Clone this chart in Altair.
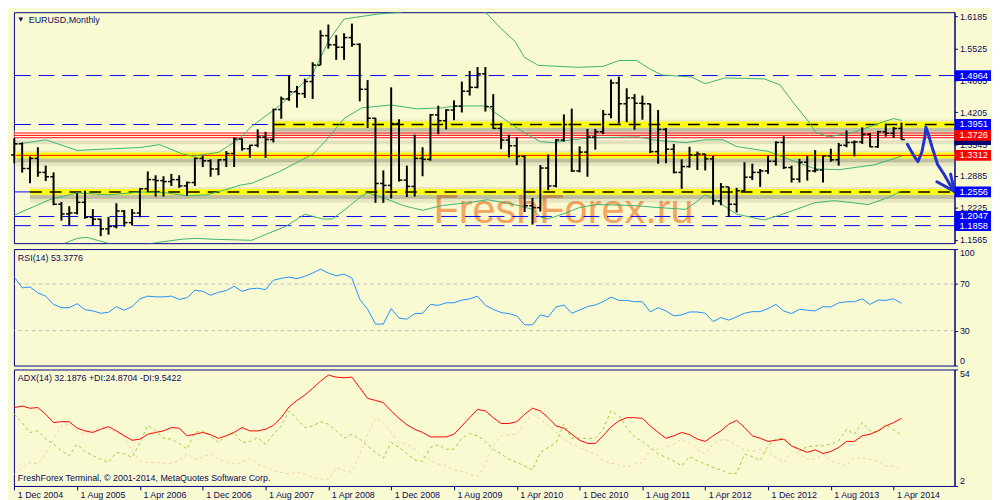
import altair as alt
import pandas as pd

# ---------------- data ----------------
opens = [1.3320, 1.3554, 1.3040, 1.3250, 1.2960, 1.2870, 1.2300, 1.2100, 1.2120, 1.2340,
         1.2030, 1.1990, 1.1790, 1.1840, 1.2160, 1.1920, 1.2120, 1.2620, 1.2810, 1.2790,
         1.2770, 1.2810, 1.2680, 1.2750, 1.3250, 1.3200, 1.3030, 1.3220, 1.3350, 1.3650,
         1.3450, 1.3520, 1.3690, 1.3640, 1.4260, 1.4480, 1.4630, 1.4590, 1.4840, 1.5180,
         1.5790, 1.5600, 1.5550, 1.5750, 1.5610, 1.4680, 1.4080, 1.2730, 1.2690, 1.3970,
         1.2800, 1.2670, 1.3250, 1.3230, 1.4150, 1.4030, 1.4250, 1.4330, 1.4640, 1.4720,
         1.5000, 1.4320, 1.3870, 1.3630, 1.3510, 1.3290, 1.2270, 1.2230, 1.3050, 1.2680,
         1.3630, 1.3950, 1.2990, 1.3380, 1.3690, 1.3800, 1.4160, 1.4810, 1.4380, 1.4500,
         1.4390, 1.4380, 1.3390, 1.3850, 1.3440, 1.2960, 1.3080, 1.3320, 1.3340, 1.3240,
         1.2370, 1.2660, 1.2300, 1.2580, 1.2860, 1.2960, 1.2990, 1.3190, 1.3580, 1.3060,
         1.2820, 1.3170, 1.2990, 1.3010, 1.3300, 1.3220, 1.3520, 1.3580, 1.3590, 1.3750,
         1.3490, 1.3800, 1.3770, 1.3870]
highs = [1.3667, 1.3580, 1.3290, 1.3480, 1.3100, 1.2960, 1.2350, 1.2260, 1.2530, 1.2580,
         1.2200, 1.2000, 1.2040, 1.2320, 1.2180, 1.2200, 1.2630, 1.2980, 1.2900, 1.2880,
         1.2930, 1.2900, 1.2770, 1.3270, 1.3300, 1.3230, 1.3230, 1.3400, 1.3680, 1.3660,
         1.3530, 1.3850, 1.3800, 1.4280, 1.4530, 1.4967, 1.4750, 1.4900, 1.5240, 1.5900,
         1.6020, 1.5800, 1.5840, 1.6040, 1.5630, 1.4870, 1.4090, 1.3000, 1.4720, 1.4060,
         1.3100, 1.3740, 1.3480, 1.4170, 1.4340, 1.4270, 1.4450, 1.4840, 1.5060, 1.5140,
         1.5140, 1.4580, 1.3980, 1.3740, 1.3690, 1.3320, 1.2430, 1.3110, 1.3330, 1.3650,
         1.4160, 1.4280, 1.3500, 1.3860, 1.3860, 1.4250, 1.4880, 1.4940, 1.4700, 1.4580,
         1.4550, 1.4380, 1.4250, 1.3880, 1.3550, 1.3230, 1.3490, 1.3390, 1.3340, 1.3300,
         1.2740, 1.2660, 1.2640, 1.3170, 1.3140, 1.3030, 1.3310, 1.3600, 1.3710, 1.3100,
         1.3240, 1.3300, 1.3420, 1.3310, 1.3450, 1.3570, 1.3830, 1.3620, 1.3890, 1.3770,
         1.3820, 1.3970, 1.3900, 1.3990]
lows = [1.3150, 1.2955, 1.2735, 1.2870, 1.2780, 1.2280, 1.1960, 1.1866, 1.2090, 1.2000,
        1.1860, 1.1640, 1.1670, 1.1800, 1.1840, 1.1860, 1.2030, 1.2550, 1.2460, 1.2460,
        1.2680, 1.2640, 1.2480, 1.2680, 1.3070, 1.2870, 1.2900, 1.3070, 1.3070, 1.3410,
        1.3265, 1.3480, 1.3260, 1.3580, 1.4070, 1.4440, 1.4300, 1.4500, 1.4480, 1.5180,
        1.5520, 1.5290, 1.5290, 1.5560, 1.4430, 1.3880, 1.2330, 1.2330, 1.2420, 1.2770,
        1.2450, 1.2460, 1.2880, 1.3200, 1.3750, 1.3850, 1.4040, 1.4200, 1.4550, 1.4700,
        1.4220, 1.3860, 1.3440, 1.3270, 1.3110, 1.2140, 1.1880, 1.2150, 1.2590, 1.2650,
        1.3600, 1.2970, 1.2960, 1.2870, 1.3430, 1.3750, 1.4080, 1.3970, 1.4000, 1.3840,
        1.4050, 1.3360, 1.3140, 1.3150, 1.2940, 1.2620, 1.3060, 1.3010, 1.3000, 1.2290,
        1.2280, 1.2040, 1.2130, 1.2560, 1.2800, 1.2660, 1.2930, 1.3100, 1.3030, 1.2750,
        1.2750, 1.2790, 1.2960, 1.2750, 1.3180, 1.3100, 1.3480, 1.3290, 1.3550, 1.3480,
        1.3470, 1.3700, 1.3670, 1.3640]
closes = [1.3554, 1.3040, 1.3250, 1.2960, 1.2870, 1.2300, 1.2100, 1.2120, 1.2340, 1.2030,
          1.1990, 1.1790, 1.1840, 1.2160, 1.1920, 1.2120, 1.2620, 1.2810, 1.2790, 1.2770,
          1.2810, 1.2680, 1.2750, 1.3250, 1.3200, 1.3030, 1.3220, 1.3350, 1.3650, 1.3450,
          1.3520, 1.3690, 1.3640, 1.4260, 1.4480, 1.4630, 1.4590, 1.4840, 1.5180, 1.5790,
          1.5600, 1.5550, 1.5750, 1.5610, 1.4680, 1.4080, 1.2730, 1.2690, 1.3970, 1.2800,
          1.2670, 1.3250, 1.3230, 1.4150, 1.4030, 1.4250, 1.4330, 1.4640, 1.4720, 1.5000,
          1.4320, 1.3870, 1.3630, 1.3510, 1.3290, 1.2270, 1.2230, 1.3050, 1.2680, 1.3630,
          1.3950, 1.2990, 1.3380, 1.3690, 1.3800, 1.4160, 1.4810, 1.4380, 1.4500, 1.4390,
          1.4380, 1.3390, 1.3850, 1.3440, 1.2960, 1.3080, 1.3320, 1.3340, 1.3240, 1.2370,
          1.2660, 1.2300, 1.2580, 1.2860, 1.2960, 1.2990, 1.3190, 1.3580, 1.3060, 1.2820,
          1.3170, 1.2990, 1.3010, 1.3300, 1.3220, 1.3520, 1.3580, 1.3590, 1.3750, 1.3490,
          1.3800, 1.3770, 1.3870, 1.3640]

# Bollinger bands, read as (month position, price) points
bb_upper_i = [0, 4, 8, 16, 18.5, 21.5, 22.75, 26, 28.5, 30.25, 33.75, 38, 40, 42, 46.25, 49.25, 53, 57,
              60, 62, 63.75, 65, 66.75, 71.75, 75, 77, 79.25, 81, 82.5, 86.25, 88, 90.5, 95.5, 97.5,
              99.25, 101.25, 102, 103.75, 107, 110.5, 112, 113]
bb_upper_p = [1.3535, 1.3635, 1.3415, 1.3475, 1.3535, 1.3335, 1.3295, 1.3375, 1.3635, 1.3915, 1.4335,
              1.4995, 1.5675, 1.6135, 1.6235, 1.6275, 1.6450, 1.6420, 1.6275, 1.5935, 1.5675, 1.5335,
              1.5175, 1.5135, 1.5155, 1.5275, 1.5275, 1.5095, 1.4975, 1.4935, 1.4795, 1.4915, 1.4895,
              1.4775, 1.4395, 1.3995, 1.3795, 1.3695, 1.3795, 1.3995, 1.4075, 1.4035]
bb_mid_i = [0, 4.5, 8, 12, 16.25, 19.5, 22, 24.5, 26.75, 28.75, 30.25, 33.75, 38, 40, 42, 44.25, 48,
            51.25, 54.5, 56.25, 60.25, 61.25, 63, 65, 67, 68.75, 71, 73.5, 79.5, 81.25, 85.5, 88, 90.25,
            92, 96, 99.25, 102, 105, 109.5, 113]
bb_mid_p = [1.2075, 1.2395, 1.2535, 1.2495, 1.2555, 1.2535, 1.2475, 1.2495, 1.2595, 1.2695, 1.2735,
            1.2975, 1.3335, 1.3675, 1.4075, 1.4295, 1.4355, 1.4275, 1.4295, 1.4335, 1.4335, 1.4195,
            1.3995, 1.3775, 1.3595, 1.3575, 1.3635, 1.3675, 1.3695, 1.3635, 1.3575, 1.3635, 1.3635,
            1.3495, 1.3395, 1.3195, 1.3035, 1.3015, 1.3115, 1.3295]
bb_lower_i = [0, 5, 8, 9.25, 11, 14, 18.5, 21.25, 23, 25.5, 30.25, 32, 34.5, 37, 39.25, 40.5, 42, 44.25,
              45, 46.25, 48, 49.5, 52, 54.5, 58, 60.25, 63.75, 66, 67, 68, 70.5, 72, 74.25, 78.75,
              81.75, 85.5, 86.75, 88, 89.25, 92, 95.5, 97.5, 102, 104.5, 108.75, 111.25, 113]
bb_lower_p = [1.1300, 1.1400, 1.1595, 1.1615, 1.1535, 1.1400, 1.1515, 1.1575, 1.1595, 1.1575, 1.1555,
              1.1675, 1.1835, 1.2095, 1.1995, 1.1995, 1.2175, 1.2475, 1.2535, 1.2475, 1.2375, 1.2275,
              1.2175, 1.2275, 1.2335, 1.2395, 1.2295, 1.2195, 1.2035, 1.1995, 1.2135, 1.2235, 1.2295,
              1.2275, 1.2235, 1.2195, 1.2335, 1.2495, 1.2395, 1.2095, 1.1975, 1.2075, 1.2335, 1.2375,
              1.2295, 1.2435, 1.2575]

rsi = [76.0, 66.7, 67.5, 62.4, 59.6, 52.5, 49.7, 49.7, 53.1, 48.0,
       46.9, 44.9, 45.7, 50.6, 47.5, 50.6, 57.3, 59.6, 59.0, 59.0,
       59.6, 56.8, 58.2, 64.7, 63.8, 60.4, 62.9, 64.4, 68.1, 63.8,
       65.8, 66.4, 65.2, 73.2, 74.9, 76.0, 74.6, 76.6, 79.4, 82.8,
       79.4, 77.1, 78.5, 75.1, 56.8, 48.3, 35.6, 35.6, 48.9, 40.7,
       39.8, 44.6, 44.9, 52.5, 51.7, 53.9, 53.9, 56.2, 57.3, 59.6,
       51.7, 48.3, 45.5, 44.6, 42.7, 35.0, 35.0, 43.5, 41.8, 50.3,
       52.0, 44.9, 47.7, 50.6, 52.0, 54.8, 58.8, 56.0, 56.0, 54.8,
       54.8, 46.0, 49.7, 46.9, 42.7, 43.5, 46.0, 46.0, 44.9, 37.8,
       41.2, 39.0, 41.8, 44.9, 46.3, 46.3, 48.9, 52.5, 46.9, 44.6,
       48.3, 47.5, 46.9, 50.6, 50.3, 53.9, 54.8, 54.8, 57.3, 52.5,
       56.2, 56.0, 57.3, 53.4]
adx = [37.0, 37.7, 36.7, 37.0, 34.0, 30.3, 30.7, 30.7, 27.8, 26.6,
       25.9, 27.3, 28.5, 26.6, 24.4, 22.4, 22.9, 25.1, 25.9, 26.6,
       28.1, 27.8, 24.4, 25.1, 25.9, 24.9, 23.3, 24.4, 25.9, 28.1,
       26.6, 26.6, 27.3, 29.1, 32.5, 37.3, 40.2, 42.6, 45.6, 48.8,
       51.5, 50.6, 50.3, 50.6, 45.9, 41.1, 40.2, 39.2, 35.5, 32.2,
       29.3, 27.3, 25.9, 23.9, 23.9, 23.9, 25.1, 28.8, 32.5, 36.2,
       35.5, 32.5, 29.9, 29.9, 30.7, 34.0, 36.7, 35.5, 32.5, 28.8,
       27.8, 25.1, 22.4, 21.0, 21.0, 24.4, 28.4, 31.0, 32.5, 32.5,
       32.2, 28.8, 25.9, 23.3, 24.4, 25.9, 24.9, 22.9, 21.9, 24.4,
       26.6, 29.6, 31.3, 28.1, 24.4, 23.3, 21.9, 22.4, 22.9, 19.9,
       18.4, 17.0, 18.1, 16.5, 17.4, 19.2, 21.9, 21.9, 24.4, 25.1,
       26.6, 28.8, 30.3, 32.2]
plus_di = [34.0, 30.3, 25.9, 26.6, 22.9, 20.7, 17.7, 15.5, 20.7, 17.4,
           15.5, 14.0, 12.5, 17.0, 16.3, 14.8, 21.4, 29.1, 26.6, 23.3,
           22.9, 21.0, 18.4, 25.9, 26.6, 24.4, 21.4, 24.4, 25.9, 21.4,
           21.9, 23.6, 20.7, 25.1, 28.8, 35.5, 31.8, 28.1, 28.8, 30.7,
           29.6, 26.6, 23.3, 25.1, 22.9, 19.9, 17.0, 14.4, 21.4, 19.2,
           16.5, 13.6, 13.0, 19.2, 20.4, 18.4, 18.4, 23.3, 25.4, 24.4,
           21.9, 18.4, 16.3, 14.0, 12.5, 11.0, 9.1, 17.0, 19.2, 21.4,
           29.6, 23.3, 23.3, 23.3, 23.3, 27.3, 35.5, 33.3, 28.1, 23.9,
           21.9, 19.2, 16.3, 14.8, 13.0, 11.0, 15.1, 13.3, 11.8, 10.3,
           9.1, 7.6, 7.6, 16.3, 15.1, 13.3, 19.9, 22.9, 23.3, 19.9,
           17.7, 19.5, 19.9, 19.9, 20.7, 22.2, 27.3, 25.1, 30.3, 26.6,
           25.9, 29.6, 26.9, 24.9]
minus_di = [7.3, 10.3, 12.5, 11.8, 16.3, 22.9, 28.8, 29.6, 26.6, 25.1,
            26.6, 28.8, 27.3, 25.9, 24.4, 17.7, 13.3, 12.5, 12.5, 12.1,
            12.1, 13.3, 16.3, 14.0, 14.8, 16.5, 14.0, 12.5, 11.8, 12.5,
            14.4, 11.8, 10.3, 8.8, 8.1, 7.3, 8.1, 7.3, 5.8, 5.1,
            5.1, 10.3, 8.8, 8.1, 16.3, 25.1, 32.5, 30.3, 25.9, 21.4,
            20.7, 18.4, 15.5, 13.3, 11.8, 11.0, 9.1, 8.5, 7.3, 6.1,
            11.8, 19.9, 24.4, 24.9, 25.1, 30.3, 34.0, 31.8, 28.8, 25.9,
            22.9, 20.7, 19.2, 17.7, 16.3, 13.3, 12.1, 11.8, 10.3, 11.8,
            12.5, 18.4, 18.4, 19.2, 20.7, 22.9, 21.4, 18.4, 16.3, 20.7,
            22.6, 22.4, 20.0, 18.1, 17.4, 18.4, 17.0, 14.8, 12.5, 17.4,
            16.5, 14.0, 14.0, 16.3, 13.3, 12.1, 11.0, 14.8, 14.3, 14.0,
            13.0, 11.0, 11.0, 9.5]

x_tick_labels = ["1 Dec 2004", "1 Aug 2005", "1 Apr 2006", "1 Dec 2006", "1 Aug 2007",
                 "1 Apr 2008", "1 Dec 2008", "1 Aug 2009", "1 Apr 2010", "1 Dec 2010",
                 "1 Aug 2011", "1 Apr 2012", "1 Dec 2012", "1 Aug 2013", "1 Apr 2014"]
price_ticks = [1.6185, 1.5525, 1.4865, 1.4205, 1.3545, 1.2885, 1.2225, 1.1565]
rsi_ticks = [100, 70, 30, 0]
adx_ticks = [54, 2]

blue_levels = [1.4964, 1.3951, 1.2556, 1.2047, 1.1858]
yellow_levels = [1.3951, 1.3312, 1.2556]
yellow_start = [33, 0.25, 2]
dashed_yellow = [1.3951, 1.2556]
dashed_start = [33, 2]
red_levels = [1.3775, 1.3726, 1.3677]

box_values = [1.4964, 1.3951, 1.3726, 1.3312, 1.2556, 1.2047, 1.1858]
box_labels = ["1.4964", "1.3951", "1.3726", "1.3312", "1.2556", "1.2047", "1.1858"]
box_colors = ["#0000FF", "#0000FF", "#FF0000", "#FF0000", "#0000FF", "#0000FF", "#0000FF"]
current_price = [1.3640]

arrow_seg = ["a"] * 12 + ["b", "b", "c", "c"]
arrow_i = [113.75, 114.5, 115.1, 115.6, 116.0, 116.1, 116.4, 116.9, 117.6, 118.4, 119.1, 119.75,
           117.5, 119.75, 119.25, 119.75]
arrow_p = [1.3541, 1.3322, 1.3183, 1.3382, 1.3720, 1.3899, 1.3760, 1.3481, 1.3123, 1.2925, 1.2726,
           1.2567, 1.2766, 1.2567, 1.2925, 1.2567]

# ---------------- styling ----------------
FONT = "Liberation Sans"
NAVY = "#000080"
TXT = "#0A0A5A"
BG = "#FAFAD2"
W = 953
H_MAIN, H_RSI, H_ADX = 234, 118, 118

X = alt.Scale(domain=[-0.05, 119.75], nice=False, zero=False)
Y = alt.Scale(domain=[1.1495, 1.6275], nice=False, zero=False)
YR = alt.Scale(domain=[0, 100], nice=False, zero=False)
YA = alt.Scale(domain=[2, 54], nice=False, zero=False)


def yaxis(values, fmt, flush):
    return alt.Axis(orient="right", values=values, format=fmt, title=None, grid=False,
                    tickSize=3, labelPadding=2, labelFont=FONT, labelFontSize=9,
                    labelColor=TXT, tickColor=NAVY, domainColor=NAVY,
                    labelFlush=flush, labelOverlap=False)


yax_main = yaxis(price_ticks, ".4f", False)
yax_rsi = yaxis(rsi_ticks, "d", True)
yax_adx = yaxis(adx_ticks, "d", True)
xlab_expr = "[" + ",".join("'%s'" % s for s in x_tick_labels) + "][round(datum.value / 8)]"
xax = alt.Axis(values=list(range(0, 113, 8)), labelExpr=xlab_expr, title=None, grid=False,
               tickSize=4, labelPadding=1, labelAlign="left", labelBaseline="top", labelOffset=3,
               labelFont=FONT, labelFontSize=9, labelColor=TXT, tickColor=NAVY, domain=False,
               labelFlush=False, labelOverlap=False, labelBound=False)

# ---------------- tables ----------------
n = len(closes)
ohlc = pd.DataFrame({"i": list(range(n)), "open": opens, "high": highs, "low": lows, "close": closes})
bands = pd.DataFrame({
    "band": ["upper"] * len(bb_upper_i) + ["mid"] * len(bb_mid_i) + ["lower"] * len(bb_lower_i),
    "i": bb_upper_i + bb_mid_i + bb_lower_i,
    "p": bb_upper_p + bb_mid_p + bb_lower_p,
})
ind = pd.DataFrame({"i": list(range(n)), "rsi": rsi, "adx": adx, "pdi": plus_di, "mdi": minus_di})
blue_df = pd.DataFrame({"v": blue_levels})
yel_df = pd.DataFrame({"v": yellow_levels, "s": yellow_start})
dash_df = pd.DataFrame({"v": dashed_yellow, "s": dashed_start})
red_df = pd.DataFrame({"v": red_levels})
box_df = pd.DataFrame({"v": box_values, "label": box_labels, "col": box_colors})
cur_df = pd.DataFrame({"v": current_price})
arrow_df = pd.DataFrame({"seg": arrow_seg, "i": arrow_i, "p": arrow_p, "k": list(range(len(arrow_i)))})

# ---------------- main panel ----------------
watermark = alt.Chart(pd.DataFrame({"t": ["FreshForex.ru"]})).mark_text(
    align="left", baseline="alphabetic", font=FONT, fontSize=42, color="#F4A460"
).encode(text="t:N", x=alt.value(425), y=alt.value(214))

blue_rules = alt.Chart(blue_df).mark_rule(color="#0000FF", strokeWidth=1, strokeDash=[16, 8]).encode(
    y=alt.Y("v:Q", scale=Y, axis=yax_main))

red_bg = alt.Chart(pd.DataFrame({"v": [red_levels[1]]})).mark_rule(
    color="#FFFFFF", strokeWidth=10, opacity=0.5).encode(y=alt.Y("v:Q", scale=Y, axis=yax_main))
red_shadow = alt.Chart(pd.DataFrame({"v": [red_levels[1]]})).mark_rule(
    color="#707060", strokeWidth=4, opacity=0.18, yOffset=7).encode(y=alt.Y("v:Q", scale=Y, axis=yax_main))

yel_shadow1 = alt.Chart(yel_df).mark_rule(color="#6E6E58", strokeWidth=4, opacity=0.4, yOffset=5).encode(
    x=alt.X("s:Q", scale=X, axis=None), x2=alt.value(W), y=alt.Y("v:Q", scale=Y, axis=yax_main))
yel_shadow2 = alt.Chart(yel_df).mark_rule(color="#6E6E58", strokeWidth=5, opacity=0.14, yOffset=8.5).encode(
    x=alt.X("s:Q", scale=X, axis=None), x2=alt.value(W), y=alt.Y("v:Q", scale=Y, axis=yax_main))
yel_shadow3 = alt.Chart(yel_df).mark_rule(color="#6E6E58", strokeWidth=2, opacity=0.12, yOffset=-4).encode(
    x=alt.X("s:Q", scale=X, axis=None), x2=alt.value(W), y=alt.Y("v:Q", scale=Y, axis=yax_main))
yellow = alt.Chart(yel_df).mark_rule(color="#FFFF00", strokeWidth=6).encode(
    x=alt.X("s:Q", scale=X, axis=None), x2=alt.value(W), y=alt.Y("v:Q", scale=Y, axis=yax_main))
black_dash = alt.Chart(dash_df).mark_rule(color="#000000", strokeWidth=1.5, strokeDash=[12, 8]).encode(
    x=alt.X("s:Q", scale=X, axis=None), x2=alt.value(W), y=alt.Y("v:Q", scale=Y, axis=yax_main))
red_mid = alt.Chart(pd.DataFrame({"v": [yellow_levels[1]], "s": [yellow_start[1]]})).mark_rule(
    color="#FF0000", strokeWidth=1).encode(
    x=alt.X("s:Q", scale=X, axis=None), x2=alt.value(W), y=alt.Y("v:Q", scale=Y, axis=yax_main))
red_rules = alt.Chart(red_df).mark_rule(color="#FF0000", strokeWidth=1).encode(
    y=alt.Y("v:Q", scale=Y, axis=yax_main))

bb = alt.Chart(bands).mark_line(color="#3CB371", strokeWidth=1, clip=True).encode(
    x=alt.X("i:Q", scale=X, axis=None), y=alt.Y("p:Q", scale=Y, axis=yax_main), detail="band:N")

bar_hl = alt.Chart(ohlc).mark_rule(color="#000000", strokeWidth=2).encode(
    x=alt.X("i:Q", scale=X, axis=None), y=alt.Y("low:Q", scale=Y, axis=yax_main), y2="high:Q")
bar_open = alt.Chart(ohlc).transform_calculate(il="datum.i - 0.42").mark_rule(
    color="#000000", strokeWidth=1.5).encode(
    x=alt.X("i:Q", scale=X, axis=None), x2="il:Q", y=alt.Y("open:Q", scale=Y, axis=yax_main))
bar_close = alt.Chart(ohlc).transform_calculate(ir="datum.i + 0.42").mark_rule(
    color="#000000", strokeWidth=1.5).encode(
    x=alt.X("i:Q", scale=X, axis=None), x2="ir:Q", y=alt.Y("close:Q", scale=Y, axis=yax_main))

arrow = alt.Chart(arrow_df).mark_line(color="#2233CC", strokeWidth=3, strokeCap="round",
                                      strokeJoin="round").encode(
    x=alt.X("i:Q", scale=X, axis=None), y=alt.Y("p:Q", scale=Y, axis=yax_main),
    detail="seg:N", order="k:Q")

cur_box = alt.Chart(cur_df).mark_tick(orient="horizontal", size=37, thickness=11, color="#000070",
                                      opacity=1).encode(
    x=alt.value(W + 18.5), y=alt.Y("v:Q", scale=Y, axis=yax_main))
boxes = alt.Chart(box_df).mark_tick(orient="horizontal", size=37, thickness=11, opacity=1).encode(
    x=alt.value(W + 18.5), y=alt.Y("v:Q", scale=Y, axis=yax_main), color=alt.Color("col:N", scale=None))
box_txt = alt.Chart(box_df).mark_text(align="left", baseline="middle", font=FONT, fontSize=9.5,
                                      color="#FFFFFF").encode(
    x=alt.value(W + 5), y=alt.Y("v:Q", scale=Y, axis=yax_main), text="label:N")

tri = alt.Chart(pd.DataFrame({"t": [1]})).mark_point(shape="triangle-down", filled=True, size=22,
                                                      color=TXT, opacity=1).encode(
    x=alt.value(7), y=alt.value(7.5))
title = alt.Chart(pd.DataFrame({"t": ["EURUSD,Monthly"]})).mark_text(
    align="left", baseline="middle", font=FONT, fontSize=9, color=TXT).encode(
    text="t:N", x=alt.value(15), y=alt.value(7.5))

main = alt.layer(watermark, blue_rules, red_bg, red_shadow, yel_shadow3, yel_shadow1, yel_shadow2,
                 yellow, black_dash, red_mid, red_rules, bb, bar_hl, bar_open, bar_close, arrow,
                 cur_box, boxes, box_txt, tri, title).properties(width=W, height=H_MAIN)

# ---------------- RSI panel ----------------
rsi_levels = alt.Chart(pd.DataFrame({"v": [70, 30]})).mark_rule(
    color="#C0C0C0", strokeWidth=1, strokeDash=[4, 3]).encode(y=alt.Y("v:Q", scale=YR, axis=yax_rsi))
rsi_line = alt.Chart(ind).mark_line(color="#1E90FF", strokeWidth=1).encode(
    x=alt.X("i:Q", scale=X, axis=None), y=alt.Y("rsi:Q", scale=YR, axis=yax_rsi))
rsi_label = alt.Chart(pd.DataFrame({"t": ["RSI(14) 53.3776"]})).mark_text(
    align="left", baseline="middle", font=FONT, fontSize=9, color=TXT).encode(
    text="t:N", x=alt.value(4), y=alt.value(9))
rsi_chart = alt.layer(rsi_levels, rsi_line, rsi_label).properties(width=W, height=H_RSI)

# ---------------- ADX panel ----------------
mdi_line = alt.Chart(ind).mark_line(color="#F7CDA8", strokeWidth=1, strokeDash=[3, 3]).encode(
    x=alt.X("i:Q", scale=X, axis=xax), y=alt.Y("mdi:Q", scale=YA, axis=yax_adx))
pdi_line = alt.Chart(ind).mark_line(color="#9ACD32", strokeWidth=1, strokeDash=[3, 3]).encode(
    x=alt.X("i:Q", scale=X, axis=xax), y=alt.Y("pdi:Q", scale=YA, axis=yax_adx))
adx_line = alt.Chart(ind).mark_line(color="#FF0000", strokeWidth=1).encode(
    x=alt.X("i:Q", scale=X, axis=xax), y=alt.Y("adx:Q", scale=YA, axis=yax_adx))
adx_label = alt.Chart(pd.DataFrame({"t": ["ADX(14) 32.1876 +DI:24.8704 -DI:9.5422"]})).mark_text(
    align="left", baseline="middle", font=FONT, fontSize=9, color=TXT).encode(
    text="t:N", x=alt.value(4), y=alt.value(9))
copy_label = alt.Chart(pd.DataFrame({"t": ["FreshForex Terminal, \u00a9 2001-2014, MetaQuotes Software Corp."]})).mark_text(
    align="left", baseline="middle", font=FONT, fontSize=9, color=TXT).encode(
    text="t:N", x=alt.value(4), y=alt.value(110))
adx_chart = alt.layer(mdi_line, pdi_line, adx_line, adx_label, copy_label).properties(width=W, height=H_ADX)

chart = alt.vconcat(main, rsi_chart, adx_chart, spacing=2).properties(
    background=BG, padding=0
).configure_view(stroke=NAVY, strokeWidth=1, fill=BG)

chart.save("out.html", embed_options={"renderer": "svg", "actions": False})
